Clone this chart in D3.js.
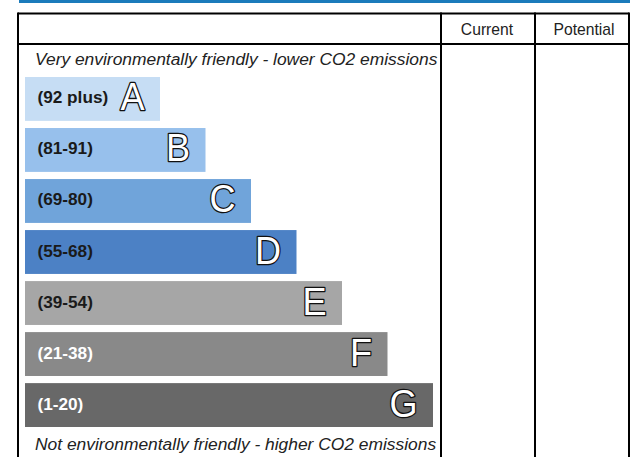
<!DOCTYPE html>
<html><head><meta charset="utf-8">
<script src="https://cdn.jsdelivr.net/npm/d3@7"></script>
<style>html,body{margin:0;padding:0;background:#fff;}svg{display:block;}</style>
</head><body>
<script>
const bands = ["A","B","C","D","E","F","G"];
const ranges = ["(92 plus)","(81-91)","(69-80)","(55-68)","(39-54)","(21-38)","(1-20)"];
const lengths = [1,2,3,4,5,6,7];
const fills = ["#c6ddf4","#97c0ec","#70a4da","#4c81c5","#a6a6a6","#898989","#686868"];
const labelColors = ["#1a1a1a","#1a1a1a","#1a1a1a","#1a1a1a","#1a1a1a","#ffffff","#ffffff"];
const headers = ["Current","Potential"];
const topText = "Very environmentally friendly - lower CO2 emissions";
const bottomText = "Not environmentally friendly - higher CO2 emissions";

const W=637,H=457;
const svg=d3.select("body").append("svg").attr("width",W).attr("height",H);
const font="'Liberation Sans', Arial, sans-serif";

// top blue rule
svg.append("rect").attr("x",19).attr("y",0).attr("width",611).attr("height",3).attr("fill","#1b7bbb");

const x=d3.scaleLinear().domain([0,7]).range([25+89.5, 25+89.5+45.5*7]);
const x0=25;
const y=d3.scaleBand().domain(bands).range([77,427]).paddingInner(0.14).paddingOuter(0);

// table lines
const g=svg.append("g").attr("stroke","#000").attr("stroke-width",2).attr("fill","none");
g.append("line").attr("x1",18).attr("x2",629).attr("y1",13.5).attr("y2",13.5);
g.append("line").attr("x1",18).attr("x2",629).attr("y1",44).attr("y2",44);
[18,441,535,629].forEach(cx=>{
  g.append("line").attr("x1",cx).attr("x2",cx).attr("y1",12.5).attr("y2",H+5);
});
// headers
const colCenters=[487,584];
svg.selectAll("text.hdr").data(headers).enter().append("text").attr("class","hdr")
  .attr("x",(d,i)=>colCenters[i]).attr("y",34.5).attr("text-anchor","middle")
  .attr("font-family",font).attr("font-size",15.7).attr("fill","#222").text(d=>d);

svg.append("text").attr("x",35).attr("y",65).attr("font-family",font).attr("font-style","italic")
  .attr("font-size",17.4).attr("fill","#222").text(topText);
svg.append("text").attr("x",35).attr("y",449.5).attr("font-family",font).attr("font-style","italic")
  .attr("font-size",17.4).attr("fill","#222").text(bottomText);

const rows=svg.selectAll("g.row").data(bands).enter().append("g").attr("class","row");
rows.append("rect").attr("x",x0).attr("y",d=>y(d))
  .attr("width",(d,i)=>x(lengths[i])-x0).attr("height",y.bandwidth())
  .attr("fill",(d,i)=>fills[i]);
rows.append("text").attr("x",37.5).attr("y",d=>y(d)+y.bandwidth()/2+4.5)
  .attr("font-family",font).attr("font-weight","bold").attr("font-size",17.2)
  .attr("fill",(d,i)=>labelColors[i]).text((d,i)=>ranges[i]);
rows.append("text")
  .attr("transform",(d,i)=>`translate(${x(lengths[i])-15.5},${y(d)+y.bandwidth()/2+11.5}) scale(0.95,1)`)
  .attr("text-anchor","end").attr("font-family",font).attr("font-size",38)
  .attr("fill","#fff").attr("stroke","#111").attr("stroke-width",2.6)
  .attr("stroke-linejoin","round")
  .attr("paint-order","stroke").text(d=>d);
</script>
</body></html>
